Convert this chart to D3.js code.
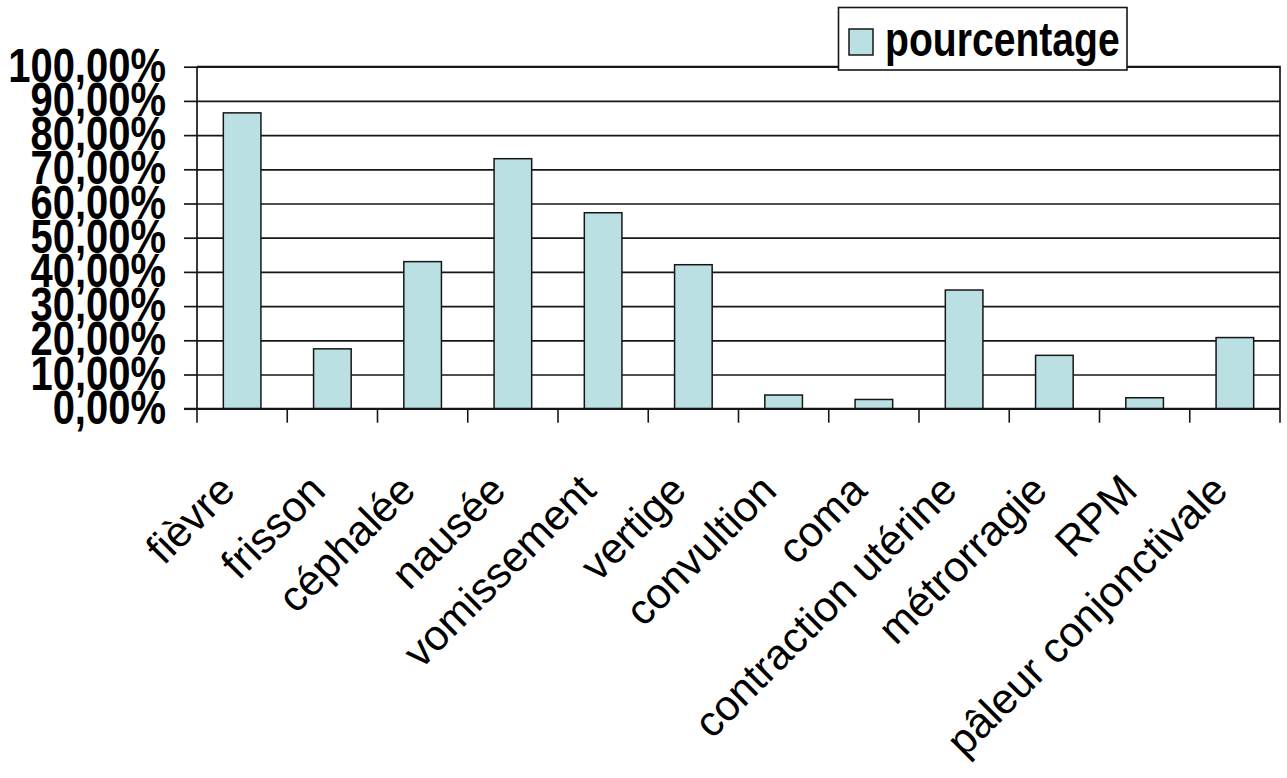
<!DOCTYPE html>
<html lang="fr">
<head>
<meta charset="utf-8">
<title>Symptômes – pourcentage</title>
<script src="https://cdn.jsdelivr.net/npm/d3@7"></script>
<style>
  html, body { margin: 0; padding: 0; background: #ffffff; }
  svg { display: block; font-family: "Liberation Sans", Arial, sans-serif; }
</style>
</head>
<body>
<svg id="chart" width="1287" height="778"></svg>
<script>
// Symptom categories and their share of cases
const categories = [
  "fièvre", "frisson", "céphalée", "nausée", "vomissement", "vertige",
  "convultion", "coma", "contraction utérine", "métrorragie", "RPM",
  "pâleur conjonctivale"
];
const pourcentage = [
  0.865, 0.175, 0.43, 0.731, 0.573, 0.421,
  0.04, 0.027, 0.347, 0.156, 0.032, 0.208
];
const yTickValues = [0, 0.1, 0.2, 0.3, 0.4, 0.5, 0.6, 0.7, 0.8, 0.9, 1.0];
const seriesName = "pourcentage";

const svg = d3.select("#chart");
const plot = { left: 197, right: 1280, top: 66.7, bottom: 408.7 };

// French number format: 100,00%
const fr = d3.formatLocale({ decimal: ",", thousands: " ", grouping: [3], currency: ["", " €"], percent: "%" });
const fmt = fr.format(".2%");

const y = d3.scaleLinear().domain([0, 1]).range([plot.bottom, plot.top]);
const xCat = d3.scaleBand().domain(categories).range([plot.left, plot.right]).padding(0);
const xBar = d3.scaleBand().domain(categories).range([plot.left, plot.right])
  .paddingInner(0.5833).paddingOuter(0.29167);

const ink = "#161616";

// Horizontal gridlines across the plot
svg.append("g")
  .attr("transform", `translate(${plot.left},0)`)
  .call(d3.axisLeft(y).tickValues(yTickValues).tickSize(-(plot.right - plot.left)).tickFormat(""))
  .call(g => g.select(".domain").remove())
  .call(g => g.selectAll("line").attr("stroke", ink).attr("stroke-width", 1.7));

// Plot frame: top and right edges
svg.append("path")
  .attr("d", `M${plot.left},${plot.top}H${plot.right}V${plot.bottom}`)
  .attr("fill", "none").attr("stroke", ink).attr("stroke-width", 1.7);

// Bars
svg.append("g").selectAll("rect")
  .data(categories.map((c, i) => ({ c, v: pourcentage[i] })))
  .join("rect")
  .attr("x", d => xBar(d.c))
  .attr("width", xBar.bandwidth())
  .attr("y", d => y(d.v))
  .attr("height", d => y(0) - y(d.v))
  .attr("fill", "#bbe0e3")
  .attr("stroke", ink)
  .attr("stroke-width", 1.5);

// Y axis with outward ticks and bold percentage labels
const yAxisG = svg.append("g")
  .attr("transform", `translate(${plot.left},0)`)
  .call(d3.axisLeft(y).tickValues(yTickValues).tickSize(13).tickPadding(18).tickFormat(fmt));
yAxisG.select(".domain").attr("stroke", ink).attr("stroke-width", 1.7)
  .attr("d", `M0,${plot.top}V${plot.bottom}`);
yAxisG.selectAll(".tick line").attr("stroke", ink).attr("stroke-width", 1.7);
yAxisG.selectAll(".tick text")
  .attr("x", null)
  .attr("dy", "0.3em")
  .attr("transform", "translate(-31,0) scale(0.93,1.13)")
  .attr("fill", "#000")
  .style("font-family", "'Liberation Sans', Arial, sans-serif")
  .style("font-size", "43px")
  .style("font-weight", "bold");

// X axis: category boundary ticks below the baseline
const xEdges = categories.map(c => xCat(c)).concat([xCat(categories[categories.length - 1]) + xCat.bandwidth()]);
const xAxisG = svg.append("g");
xAxisG.append("line")
  .attr("x1", plot.left - 13).attr("x2", plot.right)
  .attr("y1", y(0)).attr("y2", y(0))
  .attr("stroke", ink).attr("stroke-width", 2);
xAxisG.selectAll("line.tick")
  .data(xEdges)
  .join("line")
  .attr("class", "tick")
  .attr("x1", d => d).attr("x2", d => d)
  .attr("y1", y(0)).attr("y2", y(0) + 14)
  .attr("stroke", ink).attr("stroke-width", 1.6);

// Rotated category labels
xAxisG.selectAll("text")
  .data(categories)
  .join("text")
  .attr("text-anchor", "end")
  .attr("transform", c => `translate(${xCat(c) + xCat.bandwidth() / 2 - 5},${y(0) + 84}) rotate(-45)`)
  .attr("fill", "#000")
  .style("font-size", "42.5px")
  .text(c => c);

// Legend
const legend = svg.append("g");
legend.append("rect")
  .attr("x", 838.5).attr("y", 7.5).attr("width", 288.5).attr("height", 62.5)
  .attr("fill", "#fff").attr("stroke", ink).attr("stroke-width", 1.6);
legend.append("rect")
  .attr("x", 849).attr("y", 29).attr("width", 24).attr("height", 26)
  .attr("fill", "#bbe0e3").attr("stroke", ink).attr("stroke-width", 1.5);
legend.append("text")
  .attr("transform", "translate(885,55.5) scale(0.91,1.12)")
  .attr("fill", "#000")
  .style("font-size", "43px")
  .style("font-weight", "bold")
  .text(seriesName);
</script>
</body>
</html>
